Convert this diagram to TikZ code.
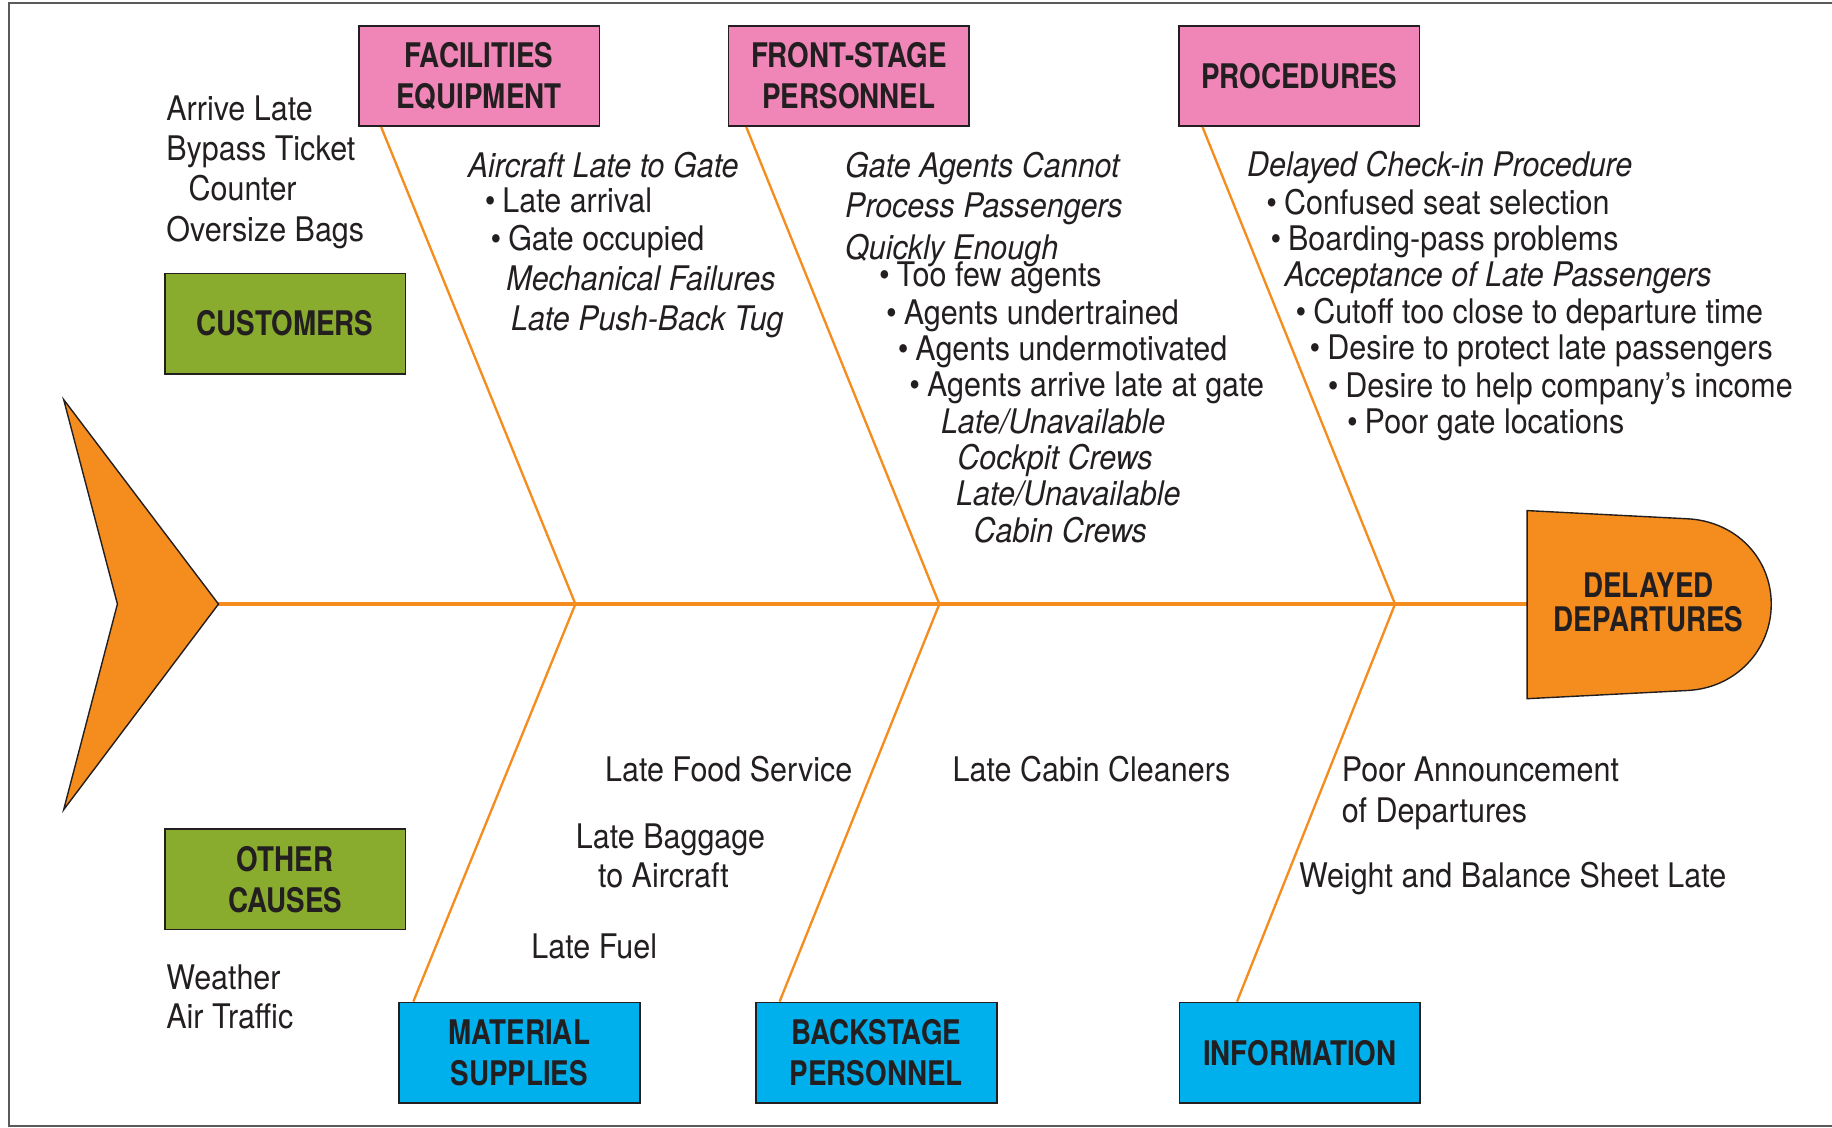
\documentclass[tikz,border=0pt]{standalone}
\usepackage{fontspec}
\setmainfont{TeX Gyre Heros}[FakeStretch=0.90]
\newfontfamily\headfont{TeX Gyre Heros}[FakeStretch=0.82]
\usetikzlibrary{positioning}

\definecolor{fishorange}{RGB}{244,141,30}
\definecolor{catpink}{RGB}{240,134,183}
\definecolor{catgreen}{RGB}{137,171,46}
\definecolor{catblue}{RGB}{0,176,236}
\definecolor{inkgray}{RGB}{35,31,32}
\definecolor{framegray}{RGB}{90,90,90}

\newcommand{\bul}{\textbullet\hspace{3pt}}

\begin{document}
\begin{tikzpicture}[
  x=0.5pt, y=-0.5pt,
  font=\fontsize{14.5}{17.5}\selectfont, text=inkgray,
  box/.style={draw=inkgray, line width=0.75pt, align=center, inner sep=0pt,
              minimum width=103pt, minimum height=43pt,
              font=\fontsize{14.5}{17.5}\selectfont\headfont\bfseries},
  rib/.style={draw=fishorange, line width=1pt},
  spine/.style={draw=fishorange, line width=2pt},
  note/.style={anchor=base west, inner sep=0pt}
]
\useasboundingbox (0,0) rectangle (1568,965);
\draw[framegray, line width=0.9pt] (1568,2.5) -- (8,2.5) -- (8,963.5) -- (1568,963.5);

% spine and joints
\coordinate (tip) at (187,517);
\coordinate (neck) at (1307,517);
\coordinate (j1) at (492.5,517);
\coordinate (j2) at (804,517);
\coordinate (j3) at (1194,517);
\draw[spine] (tip) -- (neck);

% tail and head
\filldraw[fill=fishorange, draw=inkgray, line width=0.6pt]
  (54.5,342) -- (tip) -- (54.5,693) -- (100.5,517) -- cycle;
\filldraw[fill=fishorange, draw=inkgray, line width=0.6pt]
  (1307,437) -- (1444,444) .. controls (1486,446) and (1516,478) .. (1516,517)
  .. controls (1516,556) and (1486,589) .. (1444,591) -- (1307,598) -- cycle;
\node[align=center, inner sep=0pt, font=\fontsize{14.5}{14.5}\selectfont\headfont\bfseries]
  (head) at (1411,515.5) {DELAYED\\DEPARTURES};

% category boxes
\node[box, fill=catpink] (fac) at (410,65) {FACILITIES\\EQUIPMENT};
\node[box, fill=catpink, right=54.5pt of fac] (front) {FRONT-STAGE\\PERSONNEL};
\node[box, fill=catpink, right=89pt of front] (proc) {PROCEDURES};
\node[box, fill=catgreen] (cust) at (244,277) {CUSTOMERS};
\node[box, fill=catgreen, below=194pt of cust] (other) {OTHER\\CAUSES};
\node[box, fill=catblue] (mat) at (444.5,901) {MATERIAL\\SUPPLIES};
\node[box, fill=catblue, right=49pt of mat] (back) {BACKSTAGE\\PERSONNEL};
\node[box, fill=catblue, right=77.5pt of back] (info) {INFORMATION};

% ribs
\draw[rib] ([xshift=10pt]fac.south west) -- (j1);
\draw[rib] ([xshift=8pt]front.south west) -- (j2);
\draw[rib] ([xshift=10.5pt]proc.south west) -- (j3);
\draw[rib] ([xshift=6.5pt]mat.north west) -- (j1);
\draw[rib] ([xshift=10.5pt]back.north west) -- (j2);
\draw[rib] ([xshift=25pt]info.north west) -- (j3);

% causes, top side
\foreach \x/\y/\words [count=\i] in {142/103/Arrive Late, 142/137.5/Bypass Ticket,
    161/172/Counter, 142/206.5/Oversize Bags}
  \node[note] (cus\i) at (\x,\y) {\words};
\foreach \x/\y/\words [count=\i] in {400/151.5/\textit{Aircraft Late to Gate},
    414.5/182/\bul Late arrival, 419.5/214/\bul Gate occupied,
    433/248.5/\textit{Mechanical Failures}, 437/283/\textit{Late Push-Back Tug}}
  \node[note] (fac\i) at (\x,\y) {\words};
\foreach \x/\y/\words [count=\i] in {723/151.5/\textit{Gate Agents Cannot},
    723/186.5/\textit{Process Passengers}, 723/222.5/\textit{Quickly Enough},
    752/245.5/\bul Too few agents, 758/278/\bul Agents undertrained,
    768/308.5/\bul Agents undermotivated, 778/339/\bul Agents arrive late at gate,
    805/371/{\textit{Late/Unavailable}}, 819/402/\textit{Cockpit Crews},
    818/433/{\textit{Late/Unavailable}}, 833/464/\textit{Cabin Crews}}
  \node[note] (front\i) at (\x,\y) {\words};
\foreach \x/\y/\words [count=\i] in {1067/151/\textit{Delayed Check-in Procedure},
    1083.5/183.5/\bul Confused seat selection, 1087/214/\bul Boarding-pass problems,
    1099/245/\textit{Acceptance of Late Passengers},
    1108.5/277/\bul Cutoff too close to departure time,
    1120.5/307.5/\bul Desire to protect late passengers,
    1136/340/\bul Desire to help company's income, 1152.5/371/\bul Poor gate locations}
  \node[note] (proc\i) at (\x,\y) {\words};

% causes, bottom side
\node[note] (food) at (517.5,669) {Late Food Service};
\node[note] (bag) at (492.5,726) {Late Baggage};
\node[note] (bag2) at (511.5,760) {to Aircraft};
\node[note] (fuel) at (454.5,820) {Late Fuel};
\node[note] (clean) at (815,669) {Late Cabin Cleaners};
\node[note] (annc) at (1148,669) {Poor Announcement};
\node[note] (annc2) at (1148,704) {of Departures};
\node[note] (wb) at (1111.5,760) {Weight and Balance Sheet Late};
\node[note] (wx) at (142,846.5) {Weather};
\node[note] (atc) at (142,880.5) {Air Traffic};
\end{tikzpicture}
\end{document}
